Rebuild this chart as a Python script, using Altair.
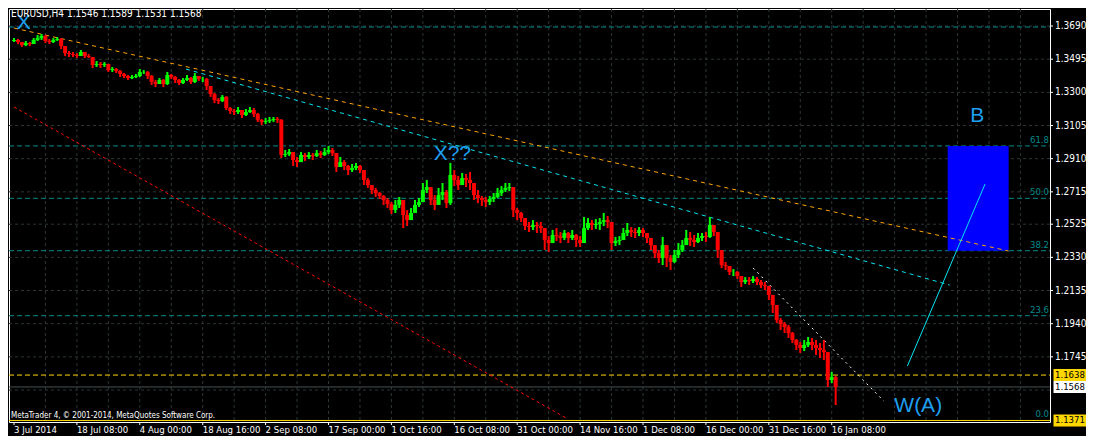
import altair as alt
import pandas as pd

# ---------------- data (EURUSD H4, 4-bar candles) ----------------
first_open = 1.3602
close = [
    1.3608, 1.3596, 1.3578, 1.3590, 1.3584, 1.3608, 1.3619, 1.3631, 1.3602, 1.3596,
    1.3608, 1.3614, 1.3572, 1.3531, 1.3525, 1.3520, 1.3514, 1.3537, 1.3514, 1.3508,
    1.3461, 1.3467, 1.3461, 1.3467, 1.3431, 1.3437, 1.3425, 1.3408, 1.3396, 1.3384,
    1.3390, 1.3396, 1.3420, 1.3420, 1.3396, 1.3361, 1.3349, 1.3373, 1.3349, 1.3402,
    1.3390, 1.3373, 1.3355, 1.3373, 1.3384, 1.3361, 1.3396, 1.3378, 1.3378, 1.3337,
    1.3290, 1.3255, 1.3249, 1.3273, 1.3208, 1.3190, 1.3184, 1.3196, 1.3167, 1.3184,
    1.3196, 1.3173, 1.3137, 1.3126, 1.3131, 1.3137, 1.3143, 1.3137, 1.2932, 1.2937,
    1.2949, 1.2902, 1.2890, 1.2932, 1.2920, 1.2932, 1.2926, 1.2943, 1.2932, 1.2949,
    1.2961, 1.2943, 1.2861, 1.2890, 1.2867, 1.2843, 1.2855, 1.2867, 1.2843, 1.2785,
    1.2755, 1.2726, 1.2708, 1.2691, 1.2667, 1.2644, 1.2608, 1.2638, 1.2667, 1.2579,
    1.2549, 1.2591, 1.2638, 1.2655, 1.2726, 1.2743, 1.2667, 1.2638, 1.2696, 1.2714,
    1.2649, 1.2814, 1.2785, 1.2755, 1.2796, 1.2785, 1.2767, 1.2696, 1.2679, 1.2667,
    1.2655, 1.2673, 1.2685, 1.2708, 1.2726, 1.2738, 1.2743, 1.2608, 1.2591, 1.2561,
    1.2514, 1.2508, 1.2520, 1.2514, 1.2502, 1.2432, 1.2414, 1.2461, 1.2455, 1.2444,
    1.2473, 1.2444, 1.2461, 1.2432, 1.2414, 1.2502, 1.2532, 1.2520, 1.2526, 1.2538,
    1.2549, 1.2538, 1.2414, 1.2426, 1.2432, 1.2473, 1.2491, 1.2479, 1.2473, 1.2491,
    1.2473, 1.2444, 1.2402, 1.2355, 1.2326, 1.2402, 1.2326, 1.2303, 1.2344, 1.2373,
    1.2402, 1.2444, 1.2432, 1.2420, 1.2444, 1.2455, 1.2450, 1.2520, 1.2479, 1.2373,
    1.2285, 1.2279, 1.2244, 1.2244, 1.2220, 1.2185, 1.2197, 1.2191, 1.2203, 1.2185,
    1.2167, 1.2161, 1.2109, 1.2050, 1.1962, 1.1938, 1.1920, 1.1885, 1.1844, 1.1815,
    1.1797, 1.1815, 1.1832, 1.1815, 1.1797, 1.1785, 1.1773, 1.1609, 1.1626, 1.1568,
]
high = [
    1.3619, 1.3614, 1.3596, 1.3602, 1.3596, 1.3619, 1.3637, 1.3643, 1.3637, 1.3614,
    1.3619, 1.3625, 1.3619, 1.3572, 1.3543, 1.3537, 1.3531, 1.3549, 1.3537, 1.3525,
    1.3508, 1.3484, 1.3478, 1.3478, 1.3467, 1.3449, 1.3443, 1.3431, 1.3414, 1.3402,
    1.3402, 1.3408, 1.3437, 1.3431, 1.3425, 1.3402, 1.3373, 1.3384, 1.3378, 1.3420,
    1.3408, 1.3396, 1.3378, 1.3384, 1.3402, 1.3390, 1.3414, 1.3396, 1.3390, 1.3384,
    1.3337, 1.3296, 1.3267, 1.3284, 1.3278, 1.3214, 1.3202, 1.3214, 1.3196, 1.3202,
    1.3214, 1.3208, 1.3179, 1.3143, 1.3149, 1.3155, 1.3155, 1.3155, 1.3143, 1.2961,
    1.2967, 1.2949, 1.2920, 1.2949, 1.2943, 1.2949, 1.2943, 1.2961, 1.2955, 1.2973,
    1.2985, 1.2973, 1.2943, 1.2920, 1.2902, 1.2873, 1.2879, 1.2885, 1.2873, 1.2843,
    1.2796, 1.2755, 1.2738, 1.2714, 1.2696, 1.2679, 1.2655, 1.2667, 1.2685, 1.2667,
    1.2608, 1.2620, 1.2667, 1.2679, 1.2767, 1.2785, 1.2743, 1.2696, 1.2738, 1.2767,
    1.2726, 1.2885, 1.2843, 1.2808, 1.2826, 1.2820, 1.2832, 1.2755, 1.2726, 1.2691,
    1.2685, 1.2691, 1.2708, 1.2738, 1.2749, 1.2767, 1.2767, 1.2743, 1.2620, 1.2597,
    1.2561, 1.2538, 1.2549, 1.2538, 1.2538, 1.2502, 1.2455, 1.2491, 1.2502, 1.2479,
    1.2491, 1.2479, 1.2491, 1.2467, 1.2455, 1.2567, 1.2561, 1.2549, 1.2555, 1.2561,
    1.2591, 1.2573, 1.2538, 1.2450, 1.2455, 1.2502, 1.2532, 1.2508, 1.2502, 1.2508,
    1.2502, 1.2473, 1.2444, 1.2402, 1.2373, 1.2450, 1.2402, 1.2344, 1.2373, 1.2414,
    1.2432, 1.2491, 1.2479, 1.2461, 1.2473, 1.2473, 1.2479, 1.2567, 1.2514, 1.2479,
    1.2373, 1.2303, 1.2279, 1.2261, 1.2250, 1.2220, 1.2214, 1.2214, 1.2220, 1.2214,
    1.2197, 1.2185, 1.2161, 1.2109, 1.2050, 1.1973, 1.1950, 1.1932, 1.1891, 1.1850,
    1.1832, 1.1844, 1.1862, 1.1856, 1.1844, 1.1826, 1.1844, 1.1773, 1.1656, 1.1632,
]
low = [
    1.3596, 1.3584, 1.3567, 1.3572, 1.3572, 1.3590, 1.3602, 1.3608, 1.3590, 1.3584,
    1.3590, 1.3602, 1.3555, 1.3514, 1.3508, 1.3508, 1.3502, 1.3514, 1.3502, 1.3502,
    1.3443, 1.3449, 1.3443, 1.3449, 1.3420, 1.3420, 1.3414, 1.3390, 1.3384, 1.3373,
    1.3378, 1.3384, 1.3390, 1.3408, 1.3378, 1.3343, 1.3331, 1.3349, 1.3331, 1.3343,
    1.3378, 1.3355, 1.3343, 1.3349, 1.3367, 1.3349, 1.3355, 1.3367, 1.3361, 1.3314,
    1.3273, 1.3237, 1.3231, 1.3243, 1.3196, 1.3173, 1.3167, 1.3173, 1.3149, 1.3161,
    1.3179, 1.3155, 1.3126, 1.3108, 1.3114, 1.3120, 1.3126, 1.3120, 1.2914, 1.2920,
    1.2926, 1.2867, 1.2861, 1.2902, 1.2896, 1.2908, 1.2902, 1.2920, 1.2914, 1.2926,
    1.2937, 1.2926, 1.2832, 1.2861, 1.2843, 1.2814, 1.2832, 1.2843, 1.2826, 1.2755,
    1.2738, 1.2702, 1.2685, 1.2673, 1.2638, 1.2620, 1.2585, 1.2591, 1.2620, 1.2502,
    1.2514, 1.2549, 1.2608, 1.2626, 1.2667, 1.2708, 1.2638, 1.2608, 1.2649, 1.2667,
    1.2620, 1.2638, 1.2749, 1.2726, 1.2755, 1.2743, 1.2726, 1.2667, 1.2649, 1.2632,
    1.2626, 1.2638, 1.2655, 1.2679, 1.2691, 1.2714, 1.2720, 1.2567, 1.2549, 1.2538,
    1.2491, 1.2479, 1.2491, 1.2473, 1.2473, 1.2373, 1.2361, 1.2432, 1.2426, 1.2414,
    1.2432, 1.2414, 1.2432, 1.2391, 1.2391, 1.2432, 1.2491, 1.2491, 1.2497, 1.2491,
    1.2514, 1.2502, 1.2373, 1.2397, 1.2402, 1.2444, 1.2455, 1.2450, 1.2444, 1.2455,
    1.2450, 1.2414, 1.2373, 1.2326, 1.2297, 1.2285, 1.2273, 1.2256, 1.2297, 1.2326,
    1.2361, 1.2408, 1.2397, 1.2391, 1.2414, 1.2426, 1.2420, 1.2444, 1.2455, 1.2326,
    1.2267, 1.2256, 1.2226, 1.2220, 1.2203, 1.2156, 1.2173, 1.2167, 1.2179, 1.2167,
    1.2150, 1.2138, 1.2079, 1.2003, 1.1944, 1.1903, 1.1885, 1.1856, 1.1826, 1.1785,
    1.1768, 1.1779, 1.1803, 1.1785, 1.1756, 1.1738, 1.1726, 1.1568, 1.1591, 1.1462,
]

price_ticks = [1.3690, 1.3495, 1.3300, 1.3105, 1.2910, 1.2715, 1.2525, 1.2330, 1.2135, 1.1940, 1.1745]
price_tick_labels = ["1.3690", "1.3495", "1.3300", "1.3105", "1.2910", "1.2715", "1.2525",
                     "1.2330", "1.2135", "1.1940", "1.1745"]
grid_prices = [1.3690, 1.3495, 1.3300, 1.3105, 1.2910, 1.2715, 1.2525, 1.2330, 1.2135, 1.1940, 1.1745, 1.1550]
date_ticks = [0, 64, 128, 192, 256, 320, 384, 448, 512, 576, 640, 704, 768, 832]
date_labels = ["3 Jul 2014", "18 Jul 08:00", "4 Aug 00:00", "18 Aug 16:00", "2 Sep 08:00",
               "17 Sep 00:00", "1 Oct 16:00", "16 Oct 08:00", "31 Oct 00:00", "14 Nov 16:00",
               "1 Dec 08:00", "16 Dec 00:00", "31 Dec 16:00", "16 Jan 08:00"]
grid_bars = [32, 64, 96, 128, 160, 192, 224, 256, 288, 320, 352, 384, 416, 448, 480, 512,
             544, 576, 608, 640, 672, 704, 736, 768, 800, 832, 864, 896, 928, 960, 992, 1024]

fib_levels = ["0.0", "23.6", "38.2", "50.0", "61.8"]
fib_prices = [1.1371, 1.1987, 1.2369, 1.2677, 1.2985]
top_line_price = 1.3684

orange_bars, orange_prices = [0, 1012], [1.3678, 1.2367]
cyan_bars, cyan_prices = [175, 952], [1.3437, 1.2167]
white_bars, white_prices = [752, 885], [1.2267, 1.1485]
red_bars, red_prices = [0, 562], [1.3214, 1.1385]
wave_bars, wave_prices = [909, 988], [1.1691, 1.2761]
box_bars, box_prices = [950, 1012], [1.2369, 1.2985]

wave_labels = ["X", "X??", "B", "W(A)"]
wave_label_bars = [10, 446, 980, 920]
wave_label_prices = [1.3705, 1.2937, 1.3161, 1.1456]

axis_box_prices = [1.1638, 1.1568, 1.1371]
axis_box_text = ["1.1638", "1.1568", "1.1371"]
axis_box_bg = ["#FFD700", "#FFFFFF", "#FFD700"]

header = "EURUSD,H4  1.1546 1.1589 1.1531 1.1568"
copyright_txt = "MetaTrader 4, \u00a9 2001-2014, MetaQuotes Software Corp."

# ---------------- styling ----------------
FONT = "DejaVu Sans Condensed, Liberation Sans"
GRID = "#2c3636"
TEAL = "#008b8b"
UP, DOWN = "#00FF00", "#FF0000"
LBL = "#1E9FF0"
W, H = 1041, 413

XS = alt.Scale(domain=[0, 1049], nice=False, zero=False)
YS = alt.Scale(domain=[1.1362, 1.3790], nice=False, zero=False)


def X(f):
    return alt.X(f, type="quantitative", scale=XS, axis=None)


def Y(f):
    return alt.Y(f, type="quantitative", scale=YS, axis=None)


opens = [first_open] + close[:-1]
cdf = pd.DataFrame({
    "bar": [4 * i for i in range(len(close))],
    "open": opens, "close": close, "high": high, "low": low,
})
cdf["dir"] = ["up" if c >= o else "down" for o, c in zip(opens, close)]
dir_color = alt.Color("dir:N", scale=alt.Scale(domain=["up", "down"], range=[UP, DOWN]), legend=None)

# grid
vgrid = alt.Chart(pd.DataFrame({"bar": grid_bars})).mark_rule(
    color=GRID, strokeDash=[3, 3], strokeWidth=1).encode(
    x=X("bar"), y=alt.value(0), y2=alt.value(H))
hgrid = alt.Chart(pd.DataFrame({"price": grid_prices})).mark_rule(
    color=GRID, strokeDash=[3, 3], strokeWidth=1).encode(
    y=Y("price"), x=alt.value(0), x2=alt.value(W))

fibdf = pd.DataFrame({"price": fib_prices, "level": fib_levels})
fib_lines = alt.Chart(fibdf).mark_rule(color=TEAL, strokeDash=[5, 3], strokeWidth=1).encode(
    y=Y("price"), x=alt.value(0), x2=alt.value(W))
fib_text = alt.Chart(fibdf).mark_text(align="right", baseline="bottom", dy=-1, color=TEAL,
                                       font=FONT, fontSize=9.5).encode(
    y=Y("price"), x=alt.value(W - 1), text="level:N")
top_line = alt.Chart(pd.DataFrame({"price": [top_line_price]})).mark_rule(
    color=TEAL, strokeDash=[5, 3]).encode(y=Y("price"), x=alt.value(0), x2=alt.value(W))

gold_solid = alt.Chart(pd.DataFrame({"price": [axis_box_prices[2]]})).mark_rule(
    color="#FFD700", strokeWidth=1).encode(y=Y("price"), x=alt.value(0), x2=alt.value(W))
gold_dash = alt.Chart(pd.DataFrame({"price": [axis_box_prices[0]]})).mark_rule(
    color="#FFD700", strokeDash=[5, 3], strokeWidth=1).encode(y=Y("price"), x=alt.value(0), x2=alt.value(W))
bid_line = alt.Chart(pd.DataFrame({"price": [axis_box_prices[1]]})).mark_rule(
    color="#465050", strokeWidth=1).encode(y=Y("price"), x=alt.value(0), x2=alt.value(W))

box = alt.Chart(pd.DataFrame({"b0": [box_bars[0]], "b1": [box_bars[1]],
                              "p0": [box_prices[0]], "p1": [box_prices[1]]})).mark_rect(
    color="#0000FF").encode(x=X("b0"), x2="b1:Q", y=Y("p0"), y2="p1:Q")


def tline(bars, prices, color, dash=None, width=1):
    kw = dict(color=color, strokeWidth=width)
    if dash:
        kw["strokeDash"] = dash
    return alt.Chart(pd.DataFrame({"bar": bars, "price": prices})).mark_line(**kw).encode(
        x=X("bar"), y=Y("price"))


red_l = tline(red_bars, red_prices, "#FF0000", [3, 3])
orange_l = tline(orange_bars, orange_prices, "#FFA500", [4, 4])
cyan_l = tline(cyan_bars, cyan_prices, "#00E5F0", [4, 4])
white_l = tline(white_bars, white_prices, "#FFFFFF", [2, 4])
wave_l = tline(wave_bars, wave_prices, "#00E5F0")

wicks = alt.Chart(cdf).mark_rule(strokeWidth=2).encode(
    x=X("bar"), y=Y("low"), y2="high:Q", color=dir_color)
bodies = alt.Chart(cdf).mark_bar(size=4).encode(
    x=X("bar"), y=Y("open"), y2="close:Q", color=dir_color)

wave_txt = alt.Chart(pd.DataFrame({"bar": wave_label_bars, "price": wave_label_prices,
                                   "t": wave_labels})).mark_text(
    align="center", baseline="middle", font="Liberation Sans", fontSize=21, color=LBL).encode(
    x=X("bar"), y=Y("price"), text="t:N")

# axes drawn as marks (MT4 style: labels on the right and along the bottom)
ydf = pd.DataFrame({"price": price_ticks, "t": price_tick_labels})
y_ticks = alt.Chart(ydf).mark_rule(color="#FFFFFF", clip=False).encode(
    y=Y("price"), x=alt.value(W), x2=alt.value(W + 3))
y_labels = alt.Chart(ydf).mark_text(align="left", baseline="middle", font=FONT, fontSize=10,
                                    color="#FFFFFF", clip=False).encode(
    y=Y("price"), x=alt.value(W + 5), text="t:N")
xdf = pd.DataFrame({"bar": date_ticks, "t": date_labels})
x_ticks = alt.Chart(xdf).mark_rule(color="#FFFFFF", clip=False).encode(
    x=X("bar"), y=alt.value(H), y2=alt.value(H + 3))
x_labels = alt.Chart(xdf).mark_text(align="left", baseline="top", font=FONT, fontSize=9.5,
                                    color="#FFFFFF", clip=False).encode(
    x=X("bar"), y=alt.value(H + 3), text="t:N")

boxdf = pd.DataFrame({"price": axis_box_prices, "t": axis_box_text, "bg": axis_box_bg})
ax_boxes = alt.Chart(boxdf).mark_tick(thickness=12, size=33, clip=False, opacity=1).encode(
    y=Y("price"), x=alt.value(W + 20), color=alt.Color("bg:N", scale=None))
ax_text = alt.Chart(boxdf).mark_text(align="left", baseline="middle", font=FONT, fontSize=9.5,
                                     color="#000000", clip=False).encode(
    y=Y("price"), x=alt.value(W + 5), text="t:N")

head = alt.Chart(pd.DataFrame({"t": [header]})).mark_text(
    align="left", baseline="top", font=FONT, fontSize=10, color="#FFFFFF").encode(
    x=alt.value(2), y=alt.value(0), text="t:N")
copy_t = alt.Chart(pd.DataFrame({"t": [copyright_txt]})).mark_text(
    align="left", baseline="middle", font=FONT, fontSize=8, color="#FFFFFF").encode(
    x=alt.value(2), y=alt.value(H - 6), text="t:N")

chart = alt.layer(
    vgrid, hgrid, top_line, fib_lines, fib_text, gold_solid, gold_dash, bid_line,
    box, red_l, orange_l, cyan_l, white_l, wave_l,
    wicks, bodies, wave_txt,
    y_ticks, y_labels, x_ticks, x_labels, ax_boxes, ax_text, head, copy_t,
).properties(
    width=W, height=H,
    autosize=alt.AutoSizeParams(type="none"),
    padding={"left": 1, "top": 1, "right": 36, "bottom": 14},
    background="#000000",
).configure_view(stroke="#FFFFFF", strokeWidth=1, fill="#000000")

chart.save("out.html", embed_options={"renderer": "svg", "actions": False})
